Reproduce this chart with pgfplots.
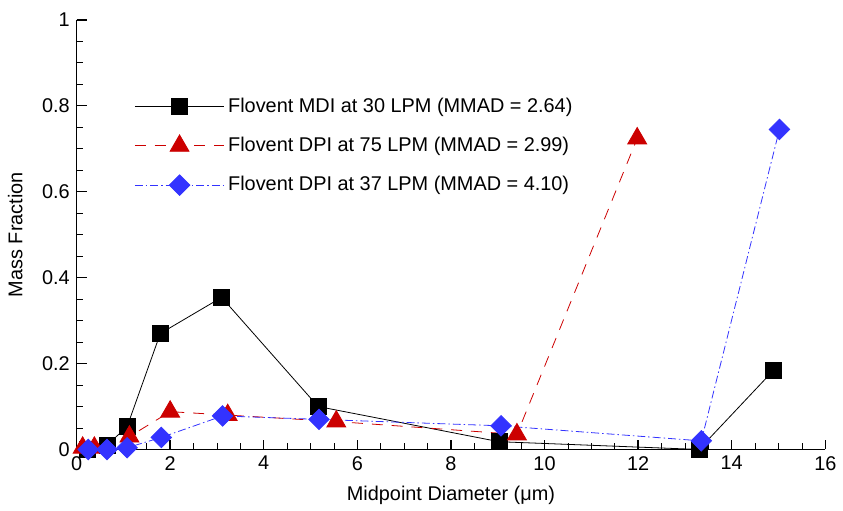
\documentclass[border=0pt]{standalone}
\usepackage{pgfplots}
\pgfplotsset{compat=1.18}
\usepackage{fontspec}
\setmainfont{Liberation Sans}
\definecolor{myred}{RGB}{204,0,0}
\definecolor{myblue}{RGB}{51,51,255}
\begin{document}
\fontsize{20}{24}\selectfont
\begin{tikzpicture}
\begin{axis}[
    scale only axis,
    width=753pt, height=432pt,
    xmin=0, xmax=16, ymin=0, ymax=1,
    axis x line*=bottom, axis y line*=left,
    axis line style={line width=1.6pt},
    xtick={0,2,...,16}, ytick={0,0.2,...,1},
    yticklabels={0,0.2,0.4,0.6,0.8,1},
    minor x tick num=3, minor y tick num=3,
    tick align=inside,
    major tick length=10pt, minor tick length=6pt,
    major tick style={line width=1.4pt, black},
    minor tick style={line width=0.8pt, black},
    /pgf/number format/assume math mode=true,
    tick label style={font=\fontsize{20}{24}\selectfont},
    xlabel={Midpoint Diameter (μm)},
    ylabel={Mass Fraction},
    label style={font=\fontsize{20}{24}\selectfont},
    xlabel style={yshift=-2pt},
    ylabel style={yshift=6pt},
    clip=false,
    legend cell align=left,
    legend style={at={(0.077,0.827)}, anchor=north west, draw=none, fill=none,
        inner sep=0pt, row sep=15pt, font=\fontsize{20}{24}\selectfont,
        nodes={inner sep=3.5pt}},
    legend image code/.code={
        \draw[mark repeat=2, mark phase=2, #1] plot coordinates {(0pt,0pt) (45pt,0pt) (90pt,0pt)};
    },
]
\coordinate (o) at (rel axis cs:0,0);
\coordinate (tr) at (rel axis cs:1,1);
\addplot[black, line width=0.8pt, mark=square*, mark size=8pt, mark options={solid}]
  coordinates {(0.24,0) (0.65,0.01) (1.08,0.053) (1.79,0.27) (3.1,0.354) (5.16,0.10) (9.03,0.018) (13.3,0.0) (14.9,0.185)};
\addplot[myred, line width=0.8pt, dash pattern=on 11pt off 9pt, mark=triangle*, mark size=11pt, mark options={solid}]
  coordinates {(0.13,0.004) (0.38,0.004) (1.13,0.03) (2.0,0.088) (3.23,0.08) (5.55,0.065) (9.41,0.035) (11.98,0.724)};
\addplot[myblue, line width=0.8pt, dash pattern=on 8pt off 3pt on 1.5pt off 3pt, mark=square*, mark size=7.3pt, mark options={solid, rotate=45}]
  coordinates {(0.25,0) (0.65,0) (1.08,0.004) (1.81,0.028) (3.12,0.078) (5.18,0.07) (9.07,0.055) (13.35,0.02) (15.02,0.745)};
\legend{Flovent MDI at 30 LPM (MMAD = 2.64), Flovent DPI at 75 LPM (MMAD = 2.99), Flovent DPI at 37 LPM (MMAD = 4.10)}
\end{axis}
\path ([shift={(-77pt,-58pt)}]o) rectangle ([shift={(13pt,20pt)}]tr);
\end{tikzpicture}
\end{document}
